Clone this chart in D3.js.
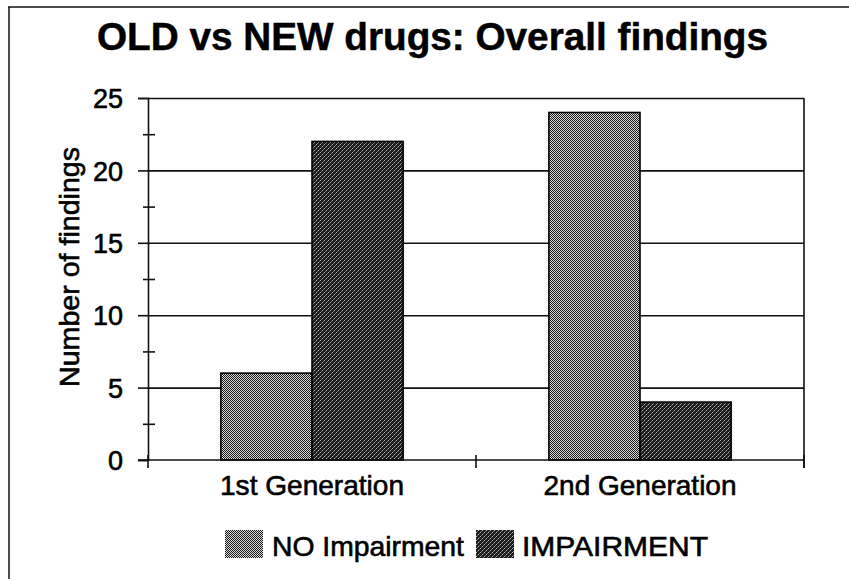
<!DOCTYPE html>
<html>
<head>
<meta charset="utf-8">
<script src="https://cdn.jsdelivr.net/npm/d3@7/dist/d3.min.js"></script>
<style>
  html, body { margin: 0; padding: 0; background: #fff; }
  svg { display: block; font-family: "Liberation Sans", Arial, sans-serif; }
</style>
</head>
<body>
<svg id="chart" width="849" height="579"></svg>
<script>
// ---- data ----
const categories = ["1st Generation", "2nd Generation"];
const seriesNames = ["NO Impairment", "IMPAIRMENT"];
const noImpairment = [6, 24];
const impairment = [22, 4];
const yTicks = [0, 5, 10, 15, 20, 25];
const yMinorTicks = [2.5, 7.5, 12.5, 17.5, 22.5];
const titleText = "OLD vs NEW drugs: Overall findings";
const yLabel = "Number of findings";

(function () {
const seriesValues = [noImpairment, impairment];
const rows = categories.map((c, i) => ({
  category: c,
  values: seriesNames.map((s, j) => ({ series: s, value: seriesValues[j][i] }))
}));

const svg = d3.select("#chart");
const W = 849, H = 579;
svg.append("rect").attr("width", W).attr("height", H).attr("fill", "#fff");

// patterns imitating the dithered fills
const defs = svg.append("defs");
const pA = defs.append("pattern").attr("id", "patNo").attr("patternUnits", "userSpaceOnUse")
  .attr("width", 2).attr("height", 2);
pA.append("rect").attr("width", 2).attr("height", 2).attr("fill", "#d8d8d8");
pA.append("rect").attr("x", 0).attr("y", 0).attr("width", 1).attr("height", 1).attr("fill", "#1a1a1a");
pA.append("rect").attr("x", 1).attr("y", 1).attr("width", 1).attr("height", 1).attr("fill", "#1a1a1a");

const pB = defs.append("pattern").attr("id", "patImp").attr("patternUnits", "userSpaceOnUse")
  .attr("width", 4).attr("height", 4);
pB.append("rect").attr("width", 4).attr("height", 4).attr("fill", "#1c1c1c");
[[0,0,"#b8b8b8"],[2,2,"#b8b8b8"],[1,3,"#707070"],[3,1,"#707070"]].forEach(([x,y,c]) =>
  pB.append("rect").attr("x", x).attr("y", y).attr("width", 1).attr("height", 1).attr("fill", c));

const fills = { "NO Impairment": "url(#patNo)", "IMPAIRMENT": "url(#patImp)" };

// frame lines of the scanned page
svg.append("line").attr("x1", 8).attr("x2", W).attr("y1", 7).attr("y2", 7)
  .attr("stroke", "#111").attr("stroke-width", 1.5);
svg.append("line").attr("x1", 9).attr("x2", 9).attr("y1", 7).attr("y2", H)
  .attr("stroke", "#111").attr("stroke-width", 1.5);

// plot geometry
const pLeft = 148, pRight = 804, pTop = 98, pBottom = 460;

const x0 = d3.scaleBand().domain(categories).range([pLeft, pRight]).padding(0);
const x1 = d3.scaleBand().domain(seriesNames).range([0, x0.bandwidth()])
  .paddingInner(0).paddingOuter(0.8);
const y = d3.scaleLinear().domain([0, 25]).range([pBottom, pTop]);

// gridlines
const grid = svg.append("g").attr("transform", `translate(${pLeft},0)`)
  .call(d3.axisLeft(y).tickValues(yTicks.filter(v => v > 0)).tickSize(-(pRight - pLeft)).tickFormat(""));
grid.select(".domain").remove();
grid.selectAll("line").attr("stroke", "#111").attr("stroke-width", 1.6);

// right border of plot
svg.append("line").attr("x1", pRight).attr("x2", pRight).attr("y1", pTop).attr("y2", pBottom + 8)
  .attr("stroke", "#111").attr("stroke-width", 1.6);

// bars
const groups = svg.append("g").selectAll("g").data(rows).join("g")
  .attr("transform", d => `translate(${x0(d.category)},0)`);
groups.selectAll("rect").data(d => d.values).join("rect")
  .attr("x", d => x1(d.series))
  .attr("width", x1.bandwidth())
  .attr("y", d => y(d.value))
  .attr("height", d => y(0) - y(d.value))
  .attr("fill", d => fills[d.series])
  .attr("stroke", "#000").attr("stroke-width", 1.6);

// y axis (major ticks + labels)
const yAxis = svg.append("g").attr("transform", `translate(${pLeft},0)`)
  .call(d3.axisLeft(y).tickValues(yTicks).tickSize(10).tickPadding(15));
yAxis.select(".domain").attr("stroke", "#111").attr("stroke-width", 1.6);
yAxis.selectAll("line").attr("stroke", "#111").attr("stroke-width", 1.6);
yAxis.selectAll("text").attr("font-size", 27).attr("fill", "#000")
  .attr("stroke", "#000").attr("stroke-width", 0.6)
  .attr("font-family", "'Liberation Sans', Arial, sans-serif").attr("dy", "0.36em");

// minor ticks crossing axis
const yMinor = svg.append("g").attr("transform", `translate(${pLeft + 7},0)`)
  .call(d3.axisLeft(y).tickValues(yMinorTicks).tickSize(12).tickFormat(""));
yMinor.select(".domain").remove();
yMinor.selectAll("line").attr("stroke", "#111").attr("stroke-width", 1.6);

// x axis line
svg.append("line").attr("x1", pLeft - 10).attr("x2", pRight).attr("y1", pBottom).attr("y2", pBottom)
  .attr("stroke", "#111").attr("stroke-width", 1.6);
// x axis ticks at category boundaries
const bounds = [x0.range()[0]].concat(categories.map(c => x0(c) + x0.bandwidth()));
svg.append("g").selectAll("line").data(bounds).join("line")
  .attr("x1", d => d).attr("x2", d => d).attr("y1", pBottom - 5).attr("y2", pBottom + 8)
  .attr("stroke", "#111").attr("stroke-width", 1.6);

// category labels
const catWidths = { "1st Generation": 184, "2nd Generation": 193 };
svg.append("g").selectAll("text").data(categories).join("text")
  .attr("x", d => x0(d) + x0.bandwidth() / 2)
  .attr("y", 495)
  .attr("text-anchor", "middle")
  .attr("font-size", 28)
  .attr("textLength", d => catWidths[d])
  .attr("lengthAdjust", "spacingAndGlyphs")
  .attr("fill", "#000").attr("stroke", "#000").attr("stroke-width", 0.6)
  .text(d => d);

// title
svg.append("text").attr("x", 432.5).attr("y", 50).attr("text-anchor", "middle")
  .attr("font-size", 38).attr("font-weight", "bold")
  .attr("textLength", 671).attr("lengthAdjust", "spacingAndGlyphs")
  .attr("fill", "#000").attr("stroke", "#000").attr("stroke-width", 0.5).text(titleText);

// y label
svg.append("text").attr("transform", "translate(79,267) rotate(-90)")
  .attr("text-anchor", "middle").attr("font-size", 28)
  .attr("textLength", 240).attr("lengthAdjust", "spacingAndGlyphs")
  .attr("fill", "#000").attr("stroke", "#000").attr("stroke-width", 0.6).text(yLabel);

// legend
const legendItems = [
  { name: seriesNames[0], sx: 225, tx: 272, tw: 192 },
  { name: seriesNames[1], sx: 476, tx: 522, tw: 186 }
];
const lg = svg.append("g").selectAll("g").data(legendItems).join("g");
lg.append("rect").attr("x", d => d.sx).attr("y", 530).attr("width", 38).attr("height", 28)
  .attr("fill", d => fills[d.name]);
lg.append("text").attr("x", d => d.tx).attr("y", 556)
  .attr("font-size", 28).attr("textLength", d => d.tw).attr("lengthAdjust", "spacingAndGlyphs")
  .attr("fill", "#000").attr("stroke", "#000").attr("stroke-width", 0.6).text(d => d.name);
})();
</script>
</body>
</html>
